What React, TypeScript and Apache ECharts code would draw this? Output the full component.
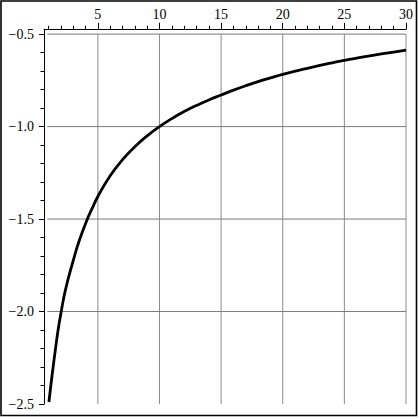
import React, { useEffect, useRef } from "react";
import * as echarts from "echarts";

// Curve points
const curveX = [1.03, 1.17, 1.38, 1.57, 1.78, 2.0, 2.38, 3.0, 3.5, 4.15, 4.5, 5, 6, 7, 8, 9, 10, 11, 12, 13, 14, 15, 16, 17, 18, 19, 20, 22, 24, 25, 26, 28, 30];
const curveY = [-2.489, -2.408, -2.295, -2.198, -2.097, -2.01, -1.88, -1.725, -1.615, -1.5, -1.448, -1.378, -1.266, -1.179, -1.109, -1.05, -1.0, -0.957, -0.919, -0.886, -0.856, -0.829, -0.803, -0.779, -0.757, -0.737, -0.718, -0.685, -0.655, -0.642, -0.63, -0.607, -0.586];

// Axis ticks
const xMajorTicks = [5, 10, 15, 20, 25, 30];
const xMinorTicks = [1, 2, 3, 4, 6, 7, 8, 9, 11, 12, 13, 14, 16, 17, 18, 19, 21, 22, 23, 24, 26, 27, 28, 29];
const yMajorTicks = [-2.5, -2.0, -1.5, -1.0, -0.5];
const yMinorTicks = [-2.4, -2.3, -2.2, -2.1, -1.9, -1.8, -1.7, -1.6, -1.4, -1.3, -1.2, -1.1, -0.9, -0.8, -0.7, -0.6];

// Grid lines
const xGridLines = [5, 10, 15, 20, 25, 30];
const yGridLines = [-2.0, -1.5, -1.0, -0.5];

const X_MIN = 0.63;
const X_MAX = 30;
const Y_MIN = -2.5;
const Y_MAX = -0.474;
const GRID_X_START = 0.9;

const FONT = "Times New Roman, Liberation Serif, serif";

function fmtY(v: number): string {
  return "\u2212" + Math.abs(v).toFixed(1);
}

export default function App() {
  const ref = useRef<HTMLDivElement>(null);

  useEffect(() => {
    if (!ref.current) return;
    const chart = echarts.init(ref.current, undefined, { renderer: "svg" });

    const gridSeries: any[] = [];
    xGridLines.forEach((v) => {
      gridSeries.push({
        type: "line",
        data: [[v, yMajorTicks[yMajorTicks.length - 1]], [v, yMajorTicks[0]]],
        symbol: "none",
        silent: true,
        z: 1,
        lineStyle: { color: "#8c8c8c", width: 1 },
      });
    });
    yGridLines.forEach((v) => {
      gridSeries.push({
        type: "line",
        data: [[GRID_X_START, v], [X_MAX, v]],
        symbol: "none",
        silent: true,
        z: 1,
        lineStyle: { color: "#7a7a7a", width: 1 },
      });
    });

    const option: any = {
      animation: false,
      backgroundColor: "#ffffff",
      textStyle: { fontFamily: FONT },
      grid: { left: 44, right: 13, top: 29.3, bottom: 15, containLabel: false },
      xAxis: [
        {
          type: "value",
          position: "top",
          min: X_MIN,
          max: X_MAX,
          axisLine: { show: true, onZero: false, lineStyle: { color: "#000", width: 1 } },
          axisTick: { show: true, inside: false, length: 6.5, customValues: xMajorTicks, lineStyle: { color: "#000", width: 1 } },
          axisLabel: {
            show: true,
            customValues: xMajorTicks,
            margin: 8,
            color: "#000",
            fontFamily: FONT,
            fontSize: 14,
            formatter: (v: number) => String(Math.round(v)),
          },
          splitLine: { show: false },
        },
        {
          type: "value",
          position: "top",
          min: X_MIN,
          max: X_MAX,
          axisLine: { show: false, onZero: false },
          axisTick: { show: true, inside: false, length: 3.5, customValues: xMinorTicks, lineStyle: { color: "#000", width: 1 } },
          axisLabel: { show: false },
          splitLine: { show: false },
        },
      ],
      yAxis: [
        {
          type: "value",
          position: "left",
          min: Y_MIN,
          max: Y_MAX,
          axisLine: { show: true, onZero: false, lineStyle: { color: "#000", width: 1 } },
          axisTick: { show: true, inside: false, length: 5, customValues: yMajorTicks, lineStyle: { color: "#000", width: 1 } },
          axisLabel: {
            show: true,
            customValues: yMajorTicks,
            margin: 10,
            color: "#000",
            fontFamily: FONT,
            fontSize: 14,
            formatter: (v: number) => fmtY(v),
          },
          splitLine: { show: false },
        },
        {
          type: "value",
          position: "left",
          min: Y_MIN,
          max: Y_MAX,
          axisLine: { show: false, onZero: false },
          axisTick: { show: true, inside: false, length: 3.5, customValues: yMinorTicks, lineStyle: { color: "#000", width: 1 } },
          axisLabel: { show: false },
          splitLine: { show: false },
        },
      ],
      graphic: [
        {
          type: "rect",
          shape: { x: 1, y: 1, width: 415.5, height: 414.5 },
          style: { fill: "none", stroke: "#000", lineWidth: 1.6 },
          silent: true,
          z: 100,
        },
      ],
      series: [
        ...gridSeries,
        {
          type: "line",
          data: curveX.map((x, i) => [x, curveY[i]]),
          symbol: "none",
          smooth: 0.5,
          z: 5,
          lineStyle: { color: "#000", width: 2.8 },
        },
      ],
    };

    chart.setOption(option);
    return () => chart.dispose();
  }, []);

  return (
    <div
      ref={ref}
      style={{ position: "absolute", left: 0, top: 0, width: 419, height: 419, background: "#fff" }}
    />
  );
}
